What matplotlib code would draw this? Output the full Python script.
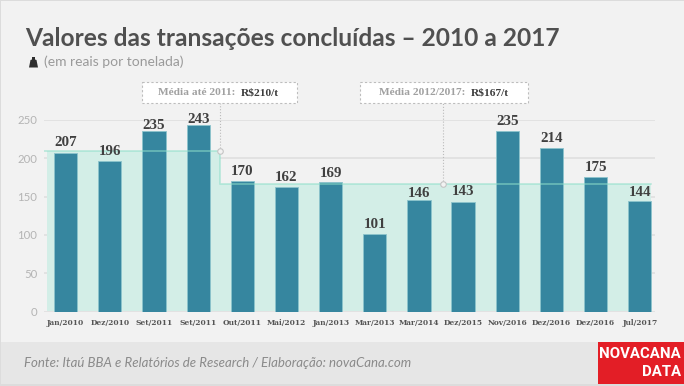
import matplotlib
matplotlib.use('Agg')
import numpy as np
from matplotlib import pyplot as plt
from matplotlib.patches import Rectangle, Polygon

W, H = 684, 386

labels = ['Jan/2010', 'Dez/2010', 'Set/2011', 'Set/2011', 'Out/2011', 'Mai/2012', 'Jan/2013',
          'Mar/2013', 'Mar/2014', 'Dez/2015', 'Nov/2016', 'Dez/2016', 'Dez/2016', 'Jul/2017']
values = [207, 196, 235, 243, 170, 162, 169, 101, 146, 143, 235, 214, 175, 144]
yticks = [0, 50, 100, 150, 200, 250]
media_1 = 210
media_2 = 167

# distancia (px) entre rotulo e barra
label_gap = [7, 6, 2, 2, 6, 6, 5, 6, 3, 7, 6, 6, 6, 5]

SANS = ['Lato', 'DejaVu Sans']
SLAB = ['DejaVu Serif']
SERIF = ['Liberation Serif', 'DejaVu Serif']

fig = plt.figure(figsize=(W / 100, H / 100), dpi=100, facecolor='#f2f2f2')

# fundo e textos em coordenadas de pixel
bg = fig.add_axes([0, 0, 1, 1], zorder=0)
bg.set_xlim(0, W)
bg.set_ylim(H, 0)
bg.axis('off')
bg.add_patch(Rectangle((0, 342), W, 42, fc='#e6e6e6', ec='none'))
bg.add_patch(Rectangle((0, 0), W, 1, fc='#dcdcdc', ec='none'))
bg.add_patch(Rectangle((0, 384), W, 2, fc='#dcdcdc', ec='none'))
bg.add_patch(Rectangle((0, 0), 1, H, fc='#dcdcdc', ec='none'))
bg.add_patch(Rectangle((598, 342), 86, 42, fc='#e31e26', ec='none'))

bg.text(25, 46, 'Valores das transações concluídas – 2010 a 2017', fontsize=17.65, fontweight='bold',
        color='#505050', family=SANS, va='baseline')
bg.text(44, 62, '(em reais por tonelada)', fontsize=10, color='#9a9a9a', family=SANS, va='center')
# pesinho
bg.add_patch(Polygon([[29, 67.5], [38, 67.5], [36.5, 60], [35, 59.5], [35, 57], [32, 57], [32, 59.5], [30.5, 60]],
                     fc='#2e2e2e', ec='none'))
bg.text(24, 363, 'Fonte: Itaú BBA e Relatórios de Research / Elaboração: novaCana.com', fontsize=9.55,
        style='italic', color='#8a8a8a', family=SANS, va='center')
bg.text(681, 354, 'NOVACANA', fontsize=10.8, fontweight='bold', color='white', ha='right', va='center',
        family=['Roboto', 'Liberation Sans'])
bg.text(681, 372, 'DATA', fontsize=10.8, fontweight='bold', color='white', ha='right', va='center',
        family=['Roboto', 'Liberation Sans'])

# grafico
ax = fig.add_axes([44 / W, 1 - 311.5 / H, 611 / W, 191.5 / H], zorder=1)
ax.patch.set_alpha(0)
x = np.arange(len(values))
ax.set_xlim(-0.491, 13.345)
ax.set_ylim(0, 250)
for s in ax.spines.values():
    s.set_visible(False)
ax.set_yticks(yticks)
ax.set_yticklabels(yticks, fontsize=8.2, color='#b4b4b4', family=SANS)
ax.set_xticks(x)
ax.set_xticklabels(labels, fontsize=5.45, fontweight='bold', color='#555555', family=SLAB)
ax.tick_params(length=0)
ax.tick_params(axis='x', pad=5.5)
ax.tick_params(axis='y', pad=5)
ax.grid(axis='y', color='#e2e2e2', lw=1.4, zorder=0)
ax.set_axisbelow(True)

# medias
x_step = 3.49
x_ini = -0.42
x_fim = 13.26
ax.fill_between([x_ini, x_step], 0, media_1, color='#d3eee7', lw=0, zorder=1)
ax.fill_between([x_step, x_fim], 0, media_2, color='#d3eee7', lw=0, zorder=1)
ax.bar(x, values, width=0.527, color='#36869f', edgecolor='#8cc4cc', linewidth=0.6, zorder=2)
ax.plot([-0.49, x_step, x_step, x_fim], [media_1, media_1, media_2, media_2], color='#8fdfca',
        lw=1.1, alpha=0.65, zorder=3, solid_joinstyle='miter')

for xi, v, gap in zip(x, values, label_gap):
    ax.annotate(str(v), (xi, v), xytext=(0, gap * 0.72), textcoords='offset points', ha='center', va='baseline',
                fontsize=10.8, fontweight='bold', color='#404040', family=SERIF, zorder=5)

# caixas das medias
x_caixa2 = (443 - 65.7) / 44.16
ax.plot([x_step, x_step], [media_1, 272], color='#bbbbbb', lw=0.8, ls=':', clip_on=False, zorder=4)
ax.plot([x_caixa2, x_caixa2], [media_2, 272], color='#bbbbbb', lw=0.8, ls=':', clip_on=False, zorder=4)
ax.plot([x_step, x_caixa2], [media_1, media_2], ls='none', marker='o', ms=4, mfc='#f2f2f2', mec='#c4c4c4',
        mew=0.8, clip_on=False, zorder=5)

for x0, x1, t1, t2, xt in [(142, 297, 'Média até 2011:', 'R$210/t', 235),
                           (360, 528, 'Média 2012/2017:', 'R$167/t', 465)]:
    bg.add_patch(Rectangle((x0, 82), x1 - x0, 21, fc='white', ec='#bdbdbd', lw=0.8, ls=(0, (2, 2))))
    bg.text(xt, 92.5, t1, fontsize=8.2, fontweight='bold', color='#a0a0a0', ha='right', va='center', family=SERIF)
    bg.text(xt + 6, 92.5, t2, fontsize=8.2, fontweight='bold', color='#3c3c3c', ha='left', va='center', family=SERIF)

fig.savefig('out.png', dpi=100, facecolor=fig.get_facecolor())
